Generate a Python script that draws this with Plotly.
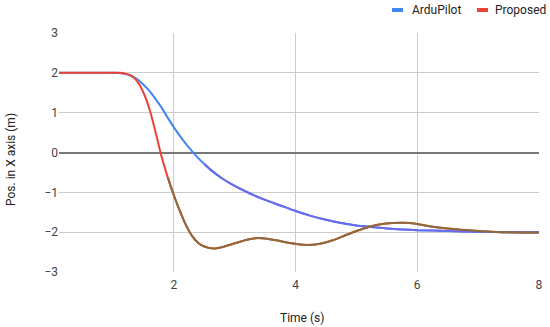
import plotly.graph_objects as go

# ---- data ----
t_ardu = [0.11, 0.5, 1.0, 1.1, 1.2, 1.3, 1.4, 1.5, 1.6, 1.7, 1.8, 1.9, 2.0, 2.1, 2.2, 2.3, 2.4, 2.5,
          2.6, 2.8, 3.0, 3.25, 3.5, 3.75, 4.0, 4.25, 4.5, 4.75, 5.0, 5.25, 5.5, 5.75, 6.0, 6.5, 7.0, 7.5, 8.0]
y_ardu = [2.0, 2.0, 2.0, 1.995, 1.97, 1.92, 1.84, 1.7, 1.54, 1.34, 1.12, 0.87, 0.63, 0.41, 0.21, 0.03, -0.14, -0.29,
          -0.43, -0.66, -0.84, -1.03, -1.19, -1.33, -1.47, -1.59, -1.69, -1.77, -1.83, -1.87, -1.91, -1.93, -1.95,
          -1.97, -1.99, -2.0, -2.0]

t_prop = [0.11, 0.5, 1.0, 1.1, 1.2, 1.3, 1.4, 1.5, 1.6, 1.7, 1.8, 1.9, 2.0, 2.1, 2.2, 2.3, 2.4, 2.5,
          2.65, 2.8, 3.0, 3.2, 3.35, 3.5, 3.7, 3.9, 4.18, 4.4, 4.6, 4.8, 5.0, 5.2, 5.4, 5.6, 5.77,
          5.95, 6.2, 6.5, 7.0, 7.4, 8.0]
y_prop = [2.0, 2.0, 2.0, 2.0, 1.98, 1.93, 1.78, 1.5, 1.08, 0.5, -0.12, -0.63, -1.08, -1.48, -1.83, -2.1, -2.27, -2.36,
          -2.41, -2.37, -2.28, -2.19, -2.15, -2.16, -2.21, -2.27, -2.32, -2.29, -2.21, -2.09, -1.97, -1.87, -1.8, -1.77,
          -1.765, -1.78, -1.85, -1.91, -1.97, -2.0, -2.01]

series_names = ["ArduPilot", "Proposed"]
x_ticks = [2, 4, 6, 8]
y_ticks = [-3, -2, -1, 0, 1, 2, 3]
x_title = "Time (s)"
y_title = "Pos. in X axis (m)"

BLUE = "#4285F4"
RED = "#EA4335"
BLUE_LATE = "#6B6AEA"
RED_LATE = "#8C6A3C"

W, H = 550, 327
L, R, T, B = 59, 11, 33, 55


def px_x(px):
    return (px - L) / (W - L - R)


def px_y(py):
    return 1 - (py - T) / (H - T - B)


line_kw = dict(width=2, shape="spline", smoothing=0.6)

fig = go.Figure()
fig.add_trace(go.Scatter(x=t_ardu, y=y_ardu, name=series_names[0], mode="lines", showlegend=False,
                         line=dict(color=BLUE, **line_kw)))
fig.add_trace(go.Scatter(x=t_prop, y=y_prop, name=series_names[1], mode="lines", showlegend=False,
                         line=dict(color=RED, **line_kw)))

# later parts of the curves appear in shifted hues in the reference
ia = t_ardu.index(2.5)
fig.add_trace(go.Scatter(x=t_ardu[ia:], y=y_ardu[ia:], mode="lines", showlegend=False, hoverinfo="skip",
                         line=dict(color=BLUE_LATE, **line_kw)))
ip = t_prop.index(1.9)
fig.add_trace(go.Scatter(x=t_prop[ip:], y=y_prop[ip:], mode="lines", showlegend=False, hoverinfo="skip",
                         line=dict(color=RED_LATE, **line_kw)))

# custom legend (short thick swatches like the reference)
legend_items = [(series_names[0], BLUE, 392, 410), (series_names[1], RED, 477, 493)]
shapes = []
annotations = []
for name, col, sx, tx in legend_items:
    shapes.append(dict(type="line", xref="paper", yref="paper", x0=px_x(sx), x1=px_x(sx + 11),
                       y0=px_y(10), y1=px_y(10), line=dict(color=col, width=4)))
    annotations.append(dict(text=name, xref="paper", yref="paper", x=px_x(tx), y=px_y(10),
                            xanchor="left", yanchor="middle", showarrow=False,
                            font=dict(size=12, color="#222222")))

# axis titles as annotations for exact placement
annotations.append(dict(text=x_title, xref="paper", yref="paper", x=px_x(302), y=px_y(318),
                        xanchor="center", yanchor="middle", showarrow=False,
                        font=dict(size=12, color="#222222")))
annotations.append(dict(text=y_title, xref="paper", yref="paper", x=px_x(11), y=px_y(160),
                        xanchor="center", yanchor="middle", showarrow=False, textangle=-90,
                        font=dict(size=12, color="#222222")))

fig.update_layout(
    width=W, height=H,
    margin=dict(l=L, r=R, t=T, b=B, autoexpand=False),
    paper_bgcolor="white", plot_bgcolor="white",
    font=dict(family="Roboto, Arial, sans-serif", size=12, color="#444444"),
    shapes=shapes, annotations=annotations,
    showlegend=False, hovermode=False,
)
fig.update_xaxes(
    range=[min(t_ardu), 8.003], tickvals=x_ticks, showgrid=True, gridcolor="#cccccc", gridwidth=1,
    zeroline=False, showline=False, ticks="", ticklen=0, automargin=False, ticklabelstandoff=4,
    tickfont=dict(size=12, color="#444444"),
)
fig.update_yaxes(
    range=[-3, 3], tickvals=y_ticks, showgrid=True, gridcolor="#cccccc", gridwidth=1,
    zeroline=True, zerolinecolor="#777777", zerolinewidth=2, showline=False, ticks="", ticklen=0,
    automargin=False, tickfont=dict(size=12, color="#444444"),
)

fig.write_html("out.html", config={"displayModeBar": False},
               post_script="document.body.style.margin='0px';")
